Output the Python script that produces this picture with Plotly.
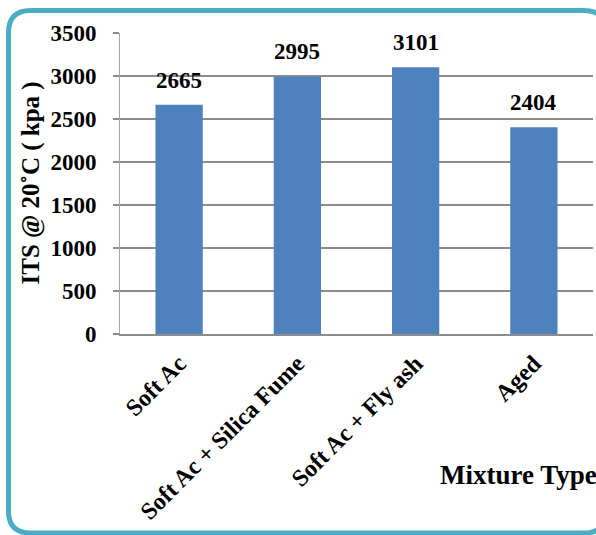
import plotly.graph_objects as go

# Indirect tensile strength by mixture type
mixtures = ["Soft Ac", "Soft Ac + Silica Fume", "Soft Ac + Fly ash", "Aged"]
its_values = [2665, 2995, 3101, 2404]
y_ticks = [0, 500, 1000, 1500, 2000, 2500, 3000, 3500]

W, H = 596, 535
L, R, T, B = 120, 3, 33, 201
plot_w = W - L - R
plot_h = H - T - B

FONT = "Liberation Serif"


def px_to_paper(px, py):
    return (px - L) / plot_w, (H - B - py) / plot_h


def frame_path(x0, y0, x1, y1, r):
    pts = [
        ("M", [(x0, y1 - r)]),
        ("L", [(x0, y0 + r)]),
        ("Q", [(x0, y0), (x0 + r, y0)]),
        ("L", [(x1 - r, y0)]),
        ("Q", [(x1, y0), (x1, y0 + r)]),
        ("L", [(x1, y1 - r)]),
        ("Q", [(x1, y1), (x1 - r, y1)]),
        ("L", [(x0 + r, y1)]),
        ("Q", [(x0, y1), (x0, y1 - r)]),
    ]
    parts = []
    for cmd, coords in pts:
        conv = [px_to_paper(a, b) for a, b in coords]
        parts.append(cmd + " ".join(f"{a:.5f},{b:.5f}" for a, b in conv))
    return " ".join(parts) + " Z"


fig = go.Figure(
    go.Bar(
        x=mixtures,
        y=its_values,
        marker=dict(color="#4f81bd", line=dict(width=0)),
        hoverinfo="x+y",
    )
)

# value labels above each bar
for m, v in zip(mixtures, its_values):
    fig.add_annotation(
        x=m, y=v, xref="x", yref="y",
        text=str(v), showarrow=False,
        yanchor="bottom", yshift=10,
        font=dict(family=FONT, size=23, color="black", weight="bold"),
    )

# axis titles
fig.add_annotation(
    xref="paper", yref="paper",
    x=(30 - L) / plot_w, y=0.5,
    text="ITS @ 20˚C ( kpa )", textangle=-90,
    showarrow=False, xanchor="center", yanchor="middle",
    font=dict(family=FONT, size=25, color="black", weight="bold"),
)
fig.add_annotation(
    xref="paper", yref="paper",
    x=(599 - L) / plot_w, y=(H - B - 475) / plot_h,
    text="Mixture Type", showarrow=False,
    xanchor="right", yanchor="middle",
    font=dict(family=FONT, size=27, color="black", weight="bold"),
)

fig.add_shape(
    type="path", xref="paper", yref="paper",
    path=frame_path(8.5, 10.5, 606, 533, 22),
    line=dict(color="#4bacc6", width=5),
    layer="above",
)

fig.update_layout(
    width=W, height=H,
    margin=dict(l=L, r=R, t=T, b=B, autoexpand=False),
    paper_bgcolor="white", plot_bgcolor="white",
    bargap=0.6,
    showlegend=False,
    font=dict(family=FONT, color="black"),
)

fig.update_xaxes(
    tickangle=-45,
    tickfont=dict(family=FONT, size=24, color="black", weight="bold"),
    showline=True, linecolor="#8c8c8c", linewidth=2,
    showgrid=False, ticks="", automargin=False,
    ticklabelstandoff=4,
)
fig.update_yaxes(
    range=[0, 3500],
    tickvals=y_ticks,
    tickfont=dict(family=FONT, size=23, color="black", weight="bold"),
    showgrid=True, gridcolor="#8c8c8c", gridwidth=1.5,
    showline=True, linecolor="#a6a6a6", linewidth=1,
    ticks="outside", ticklen=6, tickcolor="#8c8c8c", tickwidth=1.5,
    ticklabelstandoff=12,
    zeroline=False, automargin=False,
)

fig.write_html("out.html")
